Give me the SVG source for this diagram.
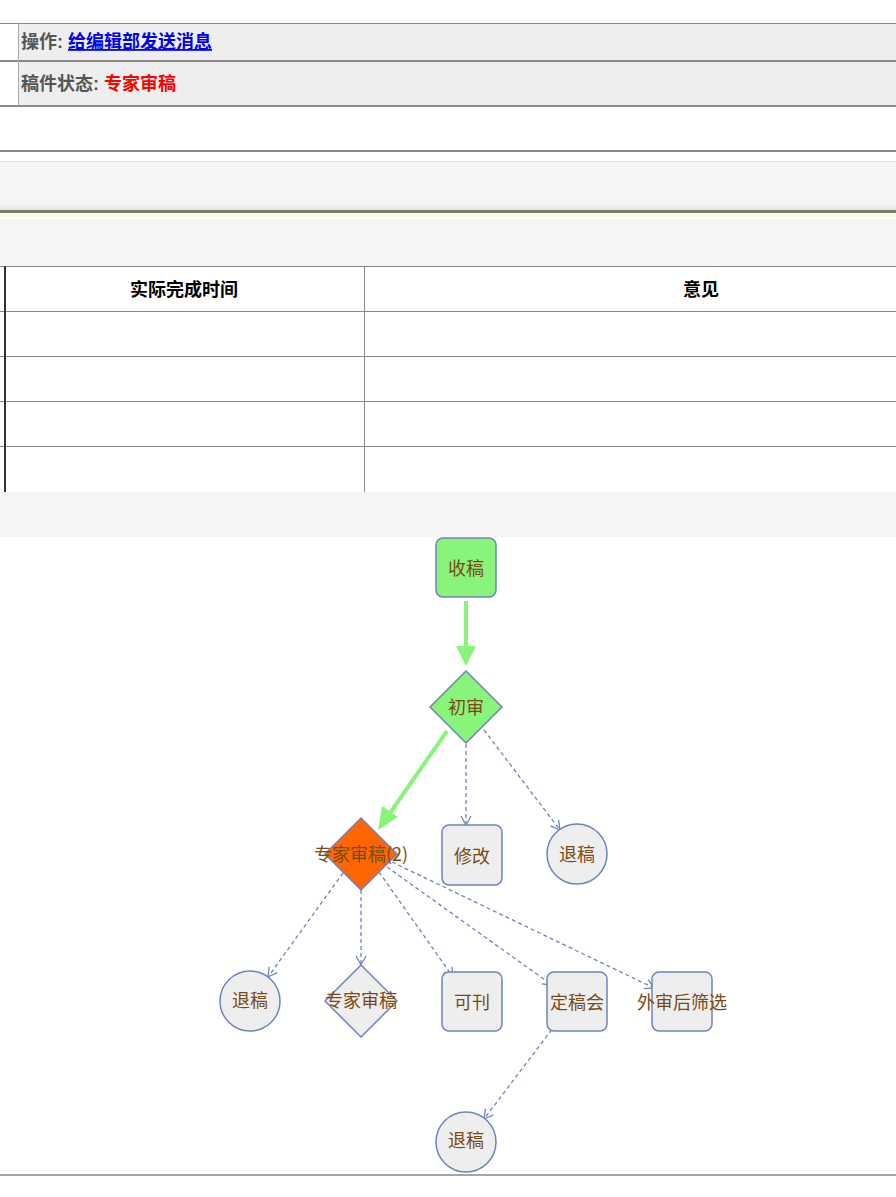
<svg xmlns="http://www.w3.org/2000/svg" width="896" height="1197" viewBox="0 0 896 1197">
<defs>
<style>
.hd{font-family:"Liberation Sans","Noto Sans CJK SC",sans-serif;font-size:18px;font-weight:bold}
.th{font-family:"Noto Sans CJK SC",sans-serif;font-size:18px;font-weight:bold;fill:#000}
.lbl{font-family:"Noto Sans CJK SC",sans-serif;font-size:18px;fill:#7a4a14;text-anchor:middle;dominant-baseline:central}
.nd{fill:#eeeeee;stroke:#6f84b6;stroke-width:1.5}
.go{fill:#88f57a;stroke:#6f84b6;stroke-width:1.5}
.grid{stroke:#888;stroke-width:1}
.dash{fill:none;stroke:#6f84b6;stroke-width:1.3;stroke-dasharray:4,3}
.thick{fill:none;stroke:#88f57a;stroke-width:4}
</style>
<marker id="open" markerWidth="12" markerHeight="12" refX="10" refY="6" orient="auto" markerUnits="userSpaceOnUse">
<path d="M1,1 L10,6 L1,11" fill="none" stroke="#6f84b6" stroke-width="1.3"/>
</marker>
<linearGradient id="shade" x1="0" y1="0" x2="0" y2="1">
<stop offset="0" stop-color="#f5f5f5"/>
<stop offset="1" stop-color="#e0e0e0"/>
</linearGradient>
</defs>
<rect width="896" height="1197" fill="#fff"/>
<g id="header">
<rect x="18" y="23" width="878" height="38" fill="#eeeeee"/>
<rect x="18" y="61" width="878" height="45" fill="#eeeeee"/>
<line x1="0" y1="23.5" x2="896" y2="23.5" stroke="#888" stroke-width="1"/>
<line x1="0" y1="61" x2="896" y2="61" stroke="#888" stroke-width="2"/>
<line x1="0" y1="106" x2="896" y2="106" stroke="#888" stroke-width="2"/>
<line x1="18.5" y1="23" x2="18.5" y2="106" stroke="#aaa" stroke-width="1"/>
<text x="21" y="48" class="hd" fill="#555">操作: <tspan fill="#0000ee" text-decoration="underline">给编辑部发送消息</tspan></text>
<text x="21" y="90" class="hd" fill="#555">稿件状态: <tspan fill="#ff0000">专家审稿</tspan></text>
</g>
<g id="band">
<line x1="0" y1="151" x2="896" y2="151" stroke="#888" stroke-width="2"/>
<rect x="0" y="161" width="896" height="44" fill="#f5f5f5"/>
<line x1="0" y1="161.5" x2="896" y2="161.5" stroke="#e2e2e2" stroke-width="1"/>
<rect x="0" y="204" width="896" height="7" fill="url(#shade)"/>
<rect x="0" y="210" width="896" height="3" fill="#7c7c62"/>
<rect x="0" y="213" width="896" height="4" fill="#fcfce6"/>
<rect x="0" y="219" width="896" height="47" fill="#f5f5f5"/>
</g>
<g id="table">
<rect x="0" y="266" width="896" height="226" fill="#fff"/>
<line x1="0" y1="266.5" x2="896" y2="266.5" class="grid"/>
<line x1="0" y1="311.5" x2="896" y2="311.5" class="grid"/>
<line x1="0" y1="356.5" x2="896" y2="356.5" class="grid"/>
<line x1="0" y1="401.5" x2="896" y2="401.5" class="grid"/>
<line x1="0" y1="446.5" x2="896" y2="446.5" class="grid"/>
<line x1="5" y1="266" x2="5" y2="492" stroke="#333" stroke-width="2"/>
<line x1="364.5" y1="266" x2="364.5" y2="492" class="grid"/>
<text x="184" y="296" class="th" text-anchor="middle">实际完成时间</text>
<text x="701" y="296" class="th" text-anchor="middle">意见</text>
<rect x="0" y="492" width="896" height="45" fill="#f5f5f5"/>
</g>
<g id="connectors">
<line x1="466" y1="601" x2="466" y2="648" class="thick"/>
<polygon points="456,646 476,646 466,666" fill="#88f57a"/>
<line x1="447" y1="731" x2="390" y2="813" class="thick"/>
<polygon points="382,806 398,817 378,830" fill="#88f57a"/>
<line x1="466" y1="744" x2="466" y2="825" class="dash" marker-end="url(#open)"/>
<line x1="484" y1="730" x2="560" y2="830" class="dash" marker-end="url(#open)"/>
<line x1="343" y1="873" x2="268" y2="977" class="dash" marker-end="url(#open)"/>
<line x1="361" y1="890" x2="361" y2="965" class="dash" marker-end="url(#open)"/>
<line x1="379" y1="872" x2="453" y2="977" class="dash" marker-end="url(#open)"/>
<line x1="387" y1="867" x2="552" y2="985" class="dash" marker-end="url(#open)"/>
<line x1="392" y1="862" x2="654" y2="988" class="dash" marker-end="url(#open)"/>
<line x1="556" y1="1024" x2="484" y2="1119" class="dash" marker-end="url(#open)"/>
</g>
<g id="n-shougao">
<rect x="436" y="538" width="60" height="59" rx="7" class="go"/>
<text x="466" y="567" class="lbl">收稿</text>
</g>
<g id="n-chushen">
<polygon points="466,671 502,707 466,743 430,707" class="go"/>
<text x="466" y="706" class="lbl">初审</text>
</g>
<g id="n-zhuanjia2">
<polygon points="361,818 397,854 361,890 325,854" fill="#ff6600" stroke="#6f84b6" stroke-width="1.5"/>
<text x="361" y="853" class="lbl">专家审稿(2)</text>
</g>
<g id="n-xiugai">
<rect x="442" y="825" width="60" height="60" rx="7" class="nd"/>
<text x="472" y="855" class="lbl">修改</text>
</g>
<g id="n-tuigao1">
<circle cx="577" cy="854" r="30" class="nd"/>
<text x="577" y="853" class="lbl">退稿</text>
</g>
<g id="n-tuigao2">
<circle cx="250" cy="1001" r="30" class="nd"/>
<text x="250" y="999" class="lbl">退稿</text>
</g>
<g id="n-zhuanjia">
<polygon points="361,965 397,1001 361,1037 325,1001" class="nd"/>
<text x="361" y="999" class="lbl">专家审稿</text>
</g>
<g id="n-kekan">
<rect x="442" y="972" width="60" height="59" rx="7" class="nd"/>
<text x="472" y="1001" class="lbl">可刊</text>
</g>
<g id="n-dinggaohui">
<rect x="547" y="972" width="60" height="59" rx="7" class="nd"/>
<text x="577" y="1001" class="lbl">定稿会</text>
</g>
<g id="n-waishen">
<rect x="652" y="972" width="60" height="59" rx="7" class="nd"/>
<text x="682" y="1001" class="lbl">外审后筛选</text>
</g>
<g id="n-tuigao3">
<circle cx="466" cy="1142" r="30" class="nd"/>
<text x="466" y="1139" class="lbl">退稿</text>
</g>
<line x1="0" y1="1175" x2="896" y2="1175" stroke="#888" stroke-width="1.5"/>
</svg>
